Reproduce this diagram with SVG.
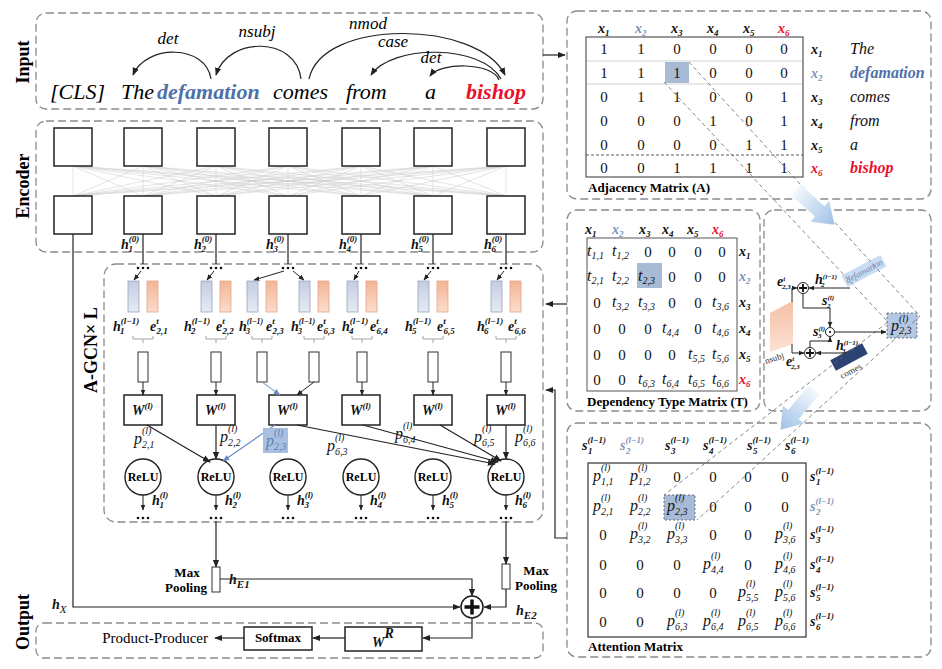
<svg xmlns="http://www.w3.org/2000/svg" width="942" height="669" viewBox="0 0 942 669">
<defs>
<marker id="ah" viewBox="0 0 10 10" refX="9" refY="5" markerUnits="userSpaceOnUse" markerWidth="8" markerHeight="8" orient="auto"><path d="M0,1L10,5L0,9z" fill="#222"/></marker>
<marker id="ahs" viewBox="0 0 10 10" refX="9" refY="5" markerUnits="userSpaceOnUse" markerWidth="6" markerHeight="6" orient="auto"><path d="M0,1L10,5L0,9z" fill="#222"/></marker>
<marker id="ahb" viewBox="0 0 10 10" refX="9" refY="5" markerUnits="userSpaceOnUse" markerWidth="7" markerHeight="7" orient="auto"><path d="M0,1L10,5L0,9z" fill="#6a8cc0"/></marker>
<linearGradient id="gB" x1="0" y1="0" x2="0" y2="1"><stop offset="0" stop-color="#c3cde2"/><stop offset="1" stop-color="#e6ebf4"/></linearGradient>
<linearGradient id="gO" x1="0" y1="0" x2="0" y2="1"><stop offset="0" stop-color="#f3b595"/><stop offset="1" stop-color="#fbdccb"/></linearGradient>
<linearGradient id="gA" x1="0" y1="0" x2="1" y2="0"><stop offset="0" stop-color="#f4f8fd"/><stop offset="1" stop-color="#9fc1e6"/></linearGradient>
<style>
.panel{fill:none;stroke:#8a8a8a;stroke-width:1.3;stroke-dasharray:8 4}
.sec{font-family:"Liberation Serif",serif;font-weight:bold;font-size:18px;text-anchor:middle}
.wd{font-family:"Liberation Serif",serif;font-style:italic;font-size:22px}
.dl{font-family:"Liberation Serif",serif;font-style:italic;font-size:17px;text-anchor:middle}
.v{font-family:"Liberation Serif",serif;font-style:italic;font-weight:bold;font-size:14px;fill:#111}
.s{font-size:9px}
.s2{font-size:10px}
.s3{font-size:7px}
.m{font-family:"Liberation Serif",serif;font-style:italic;font-size:16px;fill:#111}
.n{font-family:"Liberation Serif",serif;font-size:15px;text-anchor:middle;fill:#111}
.bt{font-family:"Liberation Serif",serif;font-weight:bold;font-size:13px}
.box{fill:#fff;stroke:#222;stroke-width:1.5}
.ln{fill:none;stroke:#222;stroke-width:1.2}
.ar{fill:none;stroke:#222;stroke-width:1.2;marker-end:url(#ah)}
.as{fill:none;stroke:#222;stroke-width:1;marker-end:url(#ahs)}
.bb{fill:url(#gB);stroke:#9aa6bd;stroke-width:0.8}
.ob{fill:url(#gO);stroke:#e0a888;stroke-width:0.8}
.br{fill:none;stroke:#999;stroke-width:0.9}
.sr{fill:#fff;stroke:#333;stroke-width:1}
.mesh{fill:none;stroke:#c8c8c8;stroke-width:0.5}
.relu{fill:#fff;stroke:#222;stroke-width:1.4}
.rl{font-family:"Liberation Serif",serif;font-weight:bold;font-size:12px;text-anchor:middle}
.blue{fill:#4f70a8}
.lb{fill:#7d93b9}
.red{fill:#e8112d}
.dash{fill:none;stroke:#6a6a6a;stroke-width:0.8;stroke-dasharray:4 3}
.hl{fill:#a7bad6}
.dot{fill:#111}
</style>
</defs>
<rect width="942" height="669" fill="#fff"/>

<g id="input">
<rect class="panel" x="36" y="13" width="507" height="96" rx="10"/>
<text class="sec" transform="translate(29,62) rotate(-90)">Input</text>
<text class="wd" x="50" y="99">[CLS]</text>
<text class="wd" x="121" y="99">The</text>
<text class="wd blue" x="157" y="99" font-weight="bold">defamation</text>
<text class="wd" x="273" y="99">comes</text>
<text class="wd" x="346" y="99">from</text>
<text class="wd" x="425" y="99">a</text>
<text class="wd red" x="466" y="99" font-weight="bold">bishop</text>
</g>

<g id="encoder">
<rect class="panel" x="36" y="121" width="507" height="131" rx="10"/>
<text class="sec" transform="translate(29,186) rotate(-90)">Encoder</text>
<path class="mesh" d="M73 166L73 196M73 166L143 196M73 166L216 196M73 166L288 196M73 166L361 196M73 166L433 196M73 166L506 196M143 166L73 196M143 166L143 196M143 166L216 196M143 166L288 196M143 166L361 196M143 166L433 196M143 166L506 196M216 166L73 196M216 166L143 196M216 166L216 196M216 166L288 196M216 166L361 196M216 166L433 196M216 166L506 196M288 166L73 196M288 166L143 196M288 166L216 196M288 166L288 196M288 166L361 196M288 166L433 196M288 166L506 196M361 166L73 196M361 166L143 196M361 166L216 196M361 166L288 196M361 166L361 196M361 166L433 196M361 166L506 196M433 166L73 196M433 166L143 196M433 166L216 196M433 166L288 196M433 166L361 196M433 166L433 196M433 166L506 196M506 166L73 196M506 166L143 196M506 166L216 196M506 166L288 196M506 166L361 196M506 166L433 196M506 166L506 196"/>
<rect class="box" x="54" y="128" width="38" height="38"/>
<rect class="box" x="124" y="128" width="38" height="38"/>
<rect class="box" x="197" y="128" width="38" height="38"/>
<rect class="box" x="269" y="128" width="38" height="38"/>
<rect class="box" x="342" y="128" width="38" height="38"/>
<rect class="box" x="414" y="128" width="38" height="38"/>
<rect class="box" x="487" y="128" width="38" height="38"/>
<rect class="box" x="54" y="196" width="38" height="38"/>
<rect class="box" x="124" y="196" width="38" height="38"/>
<rect class="box" x="197" y="196" width="38" height="38"/>
<rect class="box" x="269" y="196" width="38" height="38"/>
<rect class="box" x="342" y="196" width="38" height="38"/>
<rect class="box" x="414" y="196" width="38" height="38"/>
<rect class="box" x="487" y="196" width="38" height="38"/>
<text class="v" x="121" y="249">h<tspan class="s" dy="-7">(0)</tspan><tspan class="s" x="128.5" dy="10">1</tspan></text>
<text class="v" x="194" y="249">h<tspan class="s" dy="-7">(0)</tspan><tspan class="s" x="201.5" dy="10">2</tspan></text>
<text class="v" x="266" y="249">h<tspan class="s" dy="-7">(0)</tspan><tspan class="s" x="273.5" dy="10">3</tspan></text>
<text class="v" x="339" y="249">h<tspan class="s" dy="-7">(0)</tspan><tspan class="s" x="346.5" dy="10">4</tspan></text>
<text class="v" x="411" y="249">h<tspan class="s" dy="-7">(0)</tspan><tspan class="s" x="418.5" dy="10">5</tspan></text>
<text class="v" x="484" y="249">h<tspan class="s" dy="-7">(0)</tspan><tspan class="s" x="491.5" dy="10">6</tspan></text>
</g>

<g id="agcn">
<rect class="panel" x="104" y="264" width="439" height="258" rx="12"/>
<text class="sec" font-size="20" transform="translate(97,350) rotate(-90)">A-GCN× L</text>
</g>

<g id="gcn-col1">
<circle class="dot" cx="138" cy="268" r="1.3"/><circle class="dot" cx="143" cy="268" r="1.3"/><circle class="dot" cx="148" cy="268" r="1.3"/>
<rect class="bb" x="128" y="281" width="11" height="31"/><rect class="ob" x="147" y="281" width="11" height="31"/>
<text class="v" x="113" y="331">h<tspan class="s" dy="-7">(l−1)</tspan><tspan class="s" x="120" dy="10">1</tspan></text>
<text class="v" x="150" y="331">e<tspan class="s" dy="-7">t</tspan><tspan class="s" x="156.5" dy="10">2,1</tspan></text>
<path class="br" d="M133 336v3h20v-3M143 339v4"/>
<rect class="sr" x="138" y="352" width="10" height="30"/>
<rect class="box" x="124" y="395" width="38" height="30"/>
<text class="v" x="132" y="415">W<tspan class="s" dy="-6">(l)</tspan></text>
<circle class="relu" cx="143" cy="477" r="18"/><text class="rl" x="143" y="481">ReLU</text>
<text class="v" x="152" y="505">h<tspan class="s" dy="-7">(l)</tspan><tspan class="s" x="159.5" dy="10">1</tspan></text>
<circle class="dot" cx="138" cy="518" r="1.3"/><circle class="dot" cx="143" cy="518" r="1.3"/><circle class="dot" cx="148" cy="518" r="1.3"/>
</g>

<g id="gcn-col2">
<circle class="dot" cx="211" cy="268" r="1.3"/><circle class="dot" cx="216" cy="268" r="1.3"/><circle class="dot" cx="221" cy="268" r="1.3"/>
<rect class="bb" x="201" y="281" width="11" height="31"/><rect class="ob" x="220" y="281" width="11" height="31"/>
<text class="v" x="184" y="331">h<tspan class="s" dy="-7">(l−1)</tspan><tspan class="s" x="191" dy="10">2</tspan></text>
<text class="v" x="216" y="331">e<tspan class="s" dy="-7">t</tspan><tspan class="s" x="222.5" dy="10">2,2</tspan></text>
<path class="br" d="M206 336v3h20v-3M216 339v4"/>
<rect class="sr" x="211" y="352" width="10" height="30"/>
<rect class="box" x="197" y="395" width="38" height="30"/>
<text class="v" x="205" y="415">W<tspan class="s" dy="-6">(l)</tspan></text>
<circle class="relu" cx="216" cy="477" r="18"/><text class="rl" x="216" y="481">ReLU</text>
<text class="v" x="225" y="505">h<tspan class="s" dy="-7">(l)</tspan><tspan class="s" x="232.5" dy="10">2</tspan></text>
<circle class="dot" cx="211" cy="518" r="1.3"/><circle class="dot" cx="216" cy="518" r="1.3"/><circle class="dot" cx="221" cy="518" r="1.3"/>
</g>

<g id="gcn-col3">
<circle class="dot" cx="283" cy="268" r="1.3"/><circle class="dot" cx="288" cy="268" r="1.3"/><circle class="dot" cx="293" cy="268" r="1.3"/>
<rect class="bb" x="247" y="281" width="11" height="31"/><rect class="ob" x="266" y="281" width="11" height="31"/>
<rect class="bb" x="299" y="281" width="11" height="31"/><rect class="ob" x="318" y="281" width="11" height="31"/>
<text class="v" x="239" y="331">h<tspan font-size="8" dy="-7">(l−1)</tspan><tspan font-size="8" x="246" dy="10">3</tspan></text>
<text class="v" x="266" y="331">e<tspan class="s" dy="-7">t</tspan><tspan class="s" x="272.5" dy="10">2,3</tspan></text>
<text class="v" x="291" y="331">h<tspan font-size="8" dy="-7">(l−1)</tspan><tspan font-size="8" x="298" dy="10">3</tspan></text>
<text class="v" x="317" y="331">e<tspan class="s" dy="-7">t</tspan><tspan class="s" x="323.5" dy="10">6,3</tspan></text>
<path class="br" d="M252 336v3h20v-3M262 339v4M304 336v3h20v-3M314 339v4"/>
<rect class="sr" x="257" y="352" width="10" height="30"/>
<rect class="sr" x="309" y="352" width="10" height="30"/>
<rect class="box" x="269" y="395" width="38" height="30"/>
<text class="v" x="277" y="415">W<tspan class="s" dy="-6">(l)</tspan></text>
<circle class="relu" cx="288" cy="477" r="18"/><text class="rl" x="288" y="481">ReLU</text>
<text class="v" x="297" y="505">h<tspan class="s" dy="-7">(l)</tspan><tspan class="s" x="304.5" dy="10">3</tspan></text>
<circle class="dot" cx="283" cy="518" r="1.3"/><circle class="dot" cx="288" cy="518" r="1.3"/><circle class="dot" cx="293" cy="518" r="1.3"/>
</g>

<g id="gcn-col4">
<circle class="dot" cx="356" cy="268" r="1.3"/><circle class="dot" cx="361" cy="268" r="1.3"/><circle class="dot" cx="366" cy="268" r="1.3"/>
<rect class="bb" x="347" y="281" width="11" height="31"/><rect class="ob" x="366" y="281" width="11" height="31"/>
<text class="v" x="342" y="331">h<tspan class="s" dy="-7">(l−1)</tspan><tspan class="s" x="349" dy="10">4</tspan></text>
<text class="v" x="370" y="331">e<tspan class="s" dy="-7">t</tspan><tspan class="s" x="376.5" dy="10">6,4</tspan></text>
<path class="br" d="M352 336v3h20v-3M362 339v4"/>
<rect class="sr" x="357" y="352" width="10" height="30"/>
<rect class="box" x="342" y="395" width="38" height="30"/>
<text class="v" x="350" y="415">W<tspan class="s" dy="-6">(l)</tspan></text>
<circle class="relu" cx="361" cy="477" r="18"/><text class="rl" x="361" y="481">ReLU</text>
<text class="v" x="370" y="505">h<tspan class="s" dy="-7">(l)</tspan><tspan class="s" x="377.5" dy="10">4</tspan></text>
<circle class="dot" cx="356" cy="518" r="1.3"/><circle class="dot" cx="361" cy="518" r="1.3"/><circle class="dot" cx="366" cy="518" r="1.3"/>
</g>

<g id="gcn-col5">
<circle class="dot" cx="428" cy="268" r="1.3"/><circle class="dot" cx="433" cy="268" r="1.3"/><circle class="dot" cx="438" cy="268" r="1.3"/>
<rect class="bb" x="418" y="281" width="11" height="31"/><rect class="ob" x="437" y="281" width="11" height="31"/>
<text class="v" x="405" y="331">h<tspan class="s" dy="-7">(l−1)</tspan><tspan class="s" x="412" dy="10">5</tspan></text>
<text class="v" x="437" y="331">e<tspan class="s" dy="-7">t</tspan><tspan class="s" x="443.5" dy="10">6,5</tspan></text>
<path class="br" d="M423 336v3h20v-3M433 339v4"/>
<rect class="sr" x="428" y="352" width="10" height="30"/>
<rect class="box" x="414" y="395" width="38" height="30"/>
<text class="v" x="422" y="415">W<tspan class="s" dy="-6">(l)</tspan></text>
<circle class="relu" cx="433" cy="477" r="18"/><text class="rl" x="433" y="481">ReLU</text>
<text class="v" x="442" y="505">h<tspan class="s" dy="-7">(l)</tspan><tspan class="s" x="449.5" dy="10">5</tspan></text>
<circle class="dot" cx="428" cy="518" r="1.3"/><circle class="dot" cx="433" cy="518" r="1.3"/><circle class="dot" cx="438" cy="518" r="1.3"/>
</g>

<g id="gcn-col6">
<circle class="dot" cx="501" cy="268" r="1.3"/><circle class="dot" cx="506" cy="268" r="1.3"/><circle class="dot" cx="511" cy="268" r="1.3"/>
<rect class="bb" x="491" y="281" width="11" height="31"/><rect class="ob" x="510" y="281" width="11" height="31"/>
<text class="v" x="477" y="331">h<tspan class="s" dy="-7">(l−1)</tspan><tspan class="s" x="484" dy="10">6</tspan></text>
<text class="v" x="508" y="331">e<tspan class="s" dy="-7">t</tspan><tspan class="s" x="514.5" dy="10">6,6</tspan></text>
<path class="br" d="M496 336v3h20v-3M506 339v4"/>
<rect class="sr" x="501" y="352" width="10" height="30"/>
<rect class="box" x="487" y="395" width="38" height="30"/>
<text class="v" x="495" y="415">W<tspan class="s" dy="-6">(l)</tspan></text>
<circle class="relu" cx="506" cy="477" r="18"/><text class="rl" x="506" y="481">ReLU</text>
<text class="v" x="515" y="505">h<tspan class="s" dy="-7">(l)</tspan><tspan class="s" x="522.5" dy="10">6</tspan></text>
<circle class="dot" cx="501" cy="518" r="1.3"/><circle class="dot" cx="506" cy="518" r="1.3"/><circle class="dot" cx="511" cy="518" r="1.3"/>
</g>

<g id="output">
<rect class="panel" x="36" y="623" width="507" height="35" rx="8"/>
<text class="sec" transform="translate(29,622) rotate(-90)">Output</text>
<rect class="sr" x="212" y="567" width="8" height="25"/>
<text class="bt" font-size="12" x="187" y="577" text-anchor="middle">Max</text>
<text class="bt" font-size="12" x="186" y="592" text-anchor="middle">Pooling</text>
<rect class="sr" x="502" y="564" width="8" height="25"/>
<text class="bt" font-size="12" x="536" y="575" text-anchor="middle">Max</text>
<text class="bt" font-size="12" x="536" y="590" text-anchor="middle">Pooling</text>
<circle cx="472" cy="607" r="11" fill="#fff" stroke="#222" stroke-width="1.6"/>
<path d="M472 599.5V614.5M464.5 607H479.5" stroke="#111" stroke-width="3.5"/>
<rect class="box" x="345" y="627" width="77" height="24"/>
<text class="v" x="372" y="647" font-size="22">W<tspan font-size="14" dy="-9">R</tspan></text>
<rect class="box" x="244" y="627" width="68" height="23" stroke-width="1.2"/>
<text class="bt" font-size="11" x="278" y="642" text-anchor="middle">Softmax</text>
<text x="208" y="643" text-anchor="end" font-family="Liberation Serif, serif" font-size="15">Product-Producer</text>
<text class="v" x="229" y="584" font-size="16">h<tspan font-size="11" dy="4">E1</tspan></text>
<text class="v" x="516" y="615" font-size="16">h<tspan font-size="11" dy="4">E2</tspan></text>
<text class="v" x="52" y="609" font-size="16">h<tspan font-size="11" dy="4" font-weight="normal">X</tspan></text>
</g>

<g id="adjacency">
<rect class="panel" x="567" y="11" width="364" height="188" rx="10"/>
<rect class="hl" x="665" y="62" width="24" height="21"/>
<path d="M586 61H803M586 84H803" stroke="#d2d2d2" stroke-width="1"/>
<path d="M586 155H803" stroke="#333" stroke-width="0.8" stroke-dasharray="3 2"/>
<rect x="586" y="37" width="217" height="140" fill="none" stroke="#555" stroke-width="1.2"/>
<text class="v" x="598" y="33">x<tspan class="s" dy="3">1</tspan></text>
<text class="v lb" x="635" y="33" font-weight="normal">x<tspan class="s" dy="3">2</tspan></text>
<text class="v" x="671" y="33">x<tspan class="s" dy="3">3</tspan></text>
<text class="v" x="707" y="33">x<tspan class="s" dy="3">4</tspan></text>
<text class="v" x="743" y="33">x<tspan class="s" dy="3">5</tspan></text>
<text class="v red" x="778" y="33">x<tspan class="s" dy="3">6</tspan></text>
<text class="n" x="604 641 677 713 749 784" y="54">110000</text>
<text class="n" x="604 641 677 713 749 784" y="78">111000</text>
<text class="n" x="604 641 677 713 749 784" y="102">011001</text>
<text class="n" x="604 641 677 713 749 784" y="126">000101</text>
<text class="n" x="604 641 677 713 749 784" y="150">000011</text>
<text class="n" x="604 641 677 713 749 784" y="173">001111</text>
<text class="v" x="811" y="54">x<tspan class="s" dy="3">1</tspan></text>
<text class="v lb" x="811" y="78" font-weight="normal">x<tspan class="s" dy="3">2</tspan></text>
<text class="v" x="811" y="102">x<tspan class="s" dy="3">3</tspan></text>
<text class="v" x="811" y="126">x<tspan class="s" dy="3">4</tspan></text>
<text class="v" x="811" y="150">x<tspan class="s" dy="3">5</tspan></text>
<text class="v red" x="811" y="173">x<tspan class="s" dy="3">6</tspan></text>
<text class="m" x="850" y="54" font-size="15">The</text>
<text class="m blue" x="850" y="78" font-size="15" font-weight="bold">defamation</text>
<text class="m" x="850" y="102" font-size="15">comes</text>
<text class="m" x="850" y="126" font-size="15">from</text>
<text class="m" x="850" y="150" font-size="14">a</text>
<text class="m red" x="850" y="173" font-size="15" font-weight="bold">bishop</text>
<text class="bt" x="588" y="192">Adjacency Matrix  (A)</text>
</g>

<g id="dependency-type">
<rect class="panel" x="567" y="210" width="193" height="201" rx="10"/>
<rect class="hl" x="637" y="263" width="25" height="25"/>
<rect x="587" y="238" width="150" height="153" fill="none" stroke="#555" stroke-width="1"/>
<text class="v" x="585" y="234">x<tspan class="s" dy="3">1</tspan></text>
<text class="v lb" x="612" y="234" font-weight="normal">x<tspan class="s" dy="3">2</tspan></text>
<text class="v" x="639" y="234">x<tspan class="s" dy="3">3</tspan></text>
<text class="v" x="662" y="234">x<tspan class="s" dy="3">4</tspan></text>
<text class="v" x="687" y="234">x<tspan class="s" dy="3">5</tspan></text>
<text class="v red" x="712" y="234">x<tspan class="s" dy="3">6</tspan></text>
<text class="m" x="587" y="256" font-size="17">t<tspan class="s2" font-size="11" dy="3">1,1</tspan></text>
<text class="m" x="612" y="256" font-size="17">t<tspan class="s2" font-size="11" dy="3">1,2</tspan></text>
<text class="n" x="648 672 698 722" y="257">0000</text>
<text class="m" x="587" y="281" font-size="17">t<tspan class="s2" font-size="11" dy="3">2,1</tspan></text>
<text class="m" x="612" y="281" font-size="17">t<tspan class="s2" font-size="11" dy="3">2,2</tspan></text>
<text class="m" x="638" y="281" font-size="17">t<tspan class="s2" font-size="11" dy="3">2,3</tspan></text>
<text class="n" x="672 698 722" y="282">000</text>
<text class="n" x="597" y="308">0</text>
<text class="m" x="612" y="307" font-size="17">t<tspan class="s2" font-size="11" dy="3">3,2</tspan></text>
<text class="m" x="638" y="307" font-size="17">t<tspan class="s2" font-size="11" dy="3">3,3</tspan></text>
<text class="n" x="672 698" y="308">00</text>
<text class="m" x="712" y="307" font-size="17">t<tspan class="s2" font-size="11" dy="3">3,6</tspan></text>
<text class="n" x="597 622 648" y="334">000</text>
<text class="m" x="662" y="333" font-size="17">t<tspan class="s2" font-size="11" dy="3">4,4</tspan></text>
<text class="n" x="698" y="334">0</text>
<text class="m" x="712" y="333" font-size="17">t<tspan class="s2" font-size="11" dy="3">4,6</tspan></text>
<text class="n" x="597 622 648 672" y="360">0000</text>
<text class="m" x="688" y="359" font-size="17">t<tspan class="s2" font-size="11" dy="3">5,5</tspan></text>
<text class="m" x="712" y="359" font-size="17">t<tspan class="s2" font-size="11" dy="3">5,6</tspan></text>
<text class="n" x="597 622" y="385">00</text>
<text class="m" x="638" y="384" font-size="17">t<tspan class="s2" font-size="11" dy="3">6,3</tspan></text>
<text class="m" x="662" y="384" font-size="17">t<tspan class="s2" font-size="11" dy="3">6,4</tspan></text>
<text class="m" x="688" y="384" font-size="17">t<tspan class="s2" font-size="11" dy="3">6,5</tspan></text>
<text class="m" x="712" y="384" font-size="17">t<tspan class="s2" font-size="11" dy="3">6,6</tspan></text>
<text class="v" x="739" y="256">x<tspan class="s" dy="3">1</tspan></text>
<text class="v lb" x="739" y="281" font-weight="normal">x<tspan class="s" dy="3">2</tspan></text>
<text class="v" x="739" y="307">x<tspan class="s" dy="3">3</tspan></text>
<text class="v" x="739" y="333">x<tspan class="s" dy="3">4</tspan></text>
<text class="v" x="739" y="359">x<tspan class="s" dy="3">5</tspan></text>
<text class="v red" x="739" y="384">x<tspan class="s" dy="3">6</tspan></text>
<text class="bt" x="587" y="406" font-size="12.5">Dependency Type Matrix (T)</text>
</g>

<g id="attention">
<rect class="panel" x="567" y="423" width="364" height="234" rx="10"/>
<rect class="hl" x="664" y="495" width="31" height="25" stroke="#556" stroke-width="0.8" stroke-dasharray="2 2"/>
<rect x="588" y="463" width="218" height="174" fill="none" stroke="#333" stroke-width="1.2"/>
<text class="v" x="582" y="450">s<tspan class="s" dy="-7">(l−1)</tspan><tspan class="s" x="588" dy="11">1</tspan></text>
<text class="v lb" x="620" y="450" font-weight="normal">s<tspan class="s" dy="-7">(l−1)</tspan><tspan class="s" x="626" dy="11">2</tspan></text>
<text class="v" x="665" y="450">s<tspan class="s" dy="-7">(l−1)</tspan><tspan class="s" x="671" dy="11">3</tspan></text>
<text class="v" x="703" y="450">s<tspan class="s" dy="-7">(l−1)</tspan><tspan class="s" x="709" dy="11">4</tspan></text>
<text class="v" x="747" y="450">s<tspan class="s" dy="-7">(l−1)</tspan><tspan class="s" x="753" dy="11">5</tspan></text>
<text class="v" x="785" y="450">s<tspan class="s" dy="-7">(l−1)</tspan><tspan class="s" x="791" dy="11">6</tspan></text>
<text class="m" x="593" y="481">p<tspan class="s2" dy="-10">(l)</tspan><tspan class="s2" x="601" dy="14">1,1</tspan></text>
<text class="m" x="630" y="481">p<tspan class="s2" dy="-10">(l)</tspan><tspan class="s2" x="638" dy="14">1,2</tspan></text>
<text class="n" x="677 713 748 785" y="482">0000</text>
<text class="m" x="593" y="511">p<tspan class="s2" dy="-10">(l)</tspan><tspan class="s2" x="601" dy="14">2,1</tspan></text>
<text class="m" x="630" y="511">p<tspan class="s2" dy="-10">(l)</tspan><tspan class="s2" x="638" dy="14">2,2</tspan></text>
<text class="m" x="667" y="511">p<tspan class="s2" dy="-10">(l)</tspan><tspan class="s2" x="675" dy="14">2,3</tspan></text>
<text class="n" x="713 748 785" y="512">000</text>
<text class="n" x="603" y="540">0</text>
<text class="m" x="630" y="539">p<tspan class="s2" dy="-10">(l)</tspan><tspan class="s2" x="638" dy="14">3,2</tspan></text>
<text class="m" x="667" y="539">p<tspan class="s2" dy="-10">(l)</tspan><tspan class="s2" x="675" dy="14">3,3</tspan></text>
<text class="n" x="713 748" y="540">00</text>
<text class="m" x="775" y="539">p<tspan class="s2" dy="-10">(l)</tspan><tspan class="s2" x="783" dy="14">3,6</tspan></text>
<text class="n" x="603 640 677" y="570">000</text>
<text class="m" x="703" y="569">p<tspan class="s2" dy="-10">(l)</tspan><tspan class="s2" x="711" dy="14">4,4</tspan></text>
<text class="n" x="748" y="570">0</text>
<text class="m" x="775" y="569">p<tspan class="s2" dy="-10">(l)</tspan><tspan class="s2" x="783" dy="14">4,6</tspan></text>
<text class="n" x="603 640 677 713" y="598">0000</text>
<text class="m" x="738" y="597">p<tspan class="s2" dy="-10">(l)</tspan><tspan class="s2" x="746" dy="14">5,5</tspan></text>
<text class="m" x="775" y="597">p<tspan class="s2" dy="-10">(l)</tspan><tspan class="s2" x="783" dy="14">5,6</tspan></text>
<text class="n" x="603 640" y="627">00</text>
<text class="m" x="667" y="626">p<tspan class="s2" dy="-10">(l)</tspan><tspan class="s2" x="675" dy="14">6,3</tspan></text>
<text class="m" x="703" y="626">p<tspan class="s2" dy="-10">(l)</tspan><tspan class="s2" x="711" dy="14">6,4</tspan></text>
<text class="m" x="738" y="626">p<tspan class="s2" dy="-10">(l)</tspan><tspan class="s2" x="746" dy="14">6,5</tspan></text>
<text class="m" x="775" y="626">p<tspan class="s2" dy="-10">(l)</tspan><tspan class="s2" x="783" dy="14">6,6</tspan></text>
<text class="v" x="810" y="481">s<tspan class="s" dy="-7">(l−1)</tspan><tspan class="s" x="816" dy="11">1</tspan></text>
<text class="v lb" x="810" y="511" font-weight="normal">s<tspan class="s" dy="-7">(l−1)</tspan><tspan class="s" x="816" dy="11">2</tspan></text>
<text class="v" x="810" y="539">s<tspan class="s" dy="-7">(l−1)</tspan><tspan class="s" x="816" dy="11">3</tspan></text>
<text class="v" x="810" y="569">s<tspan class="s" dy="-7">(l−1)</tspan><tspan class="s" x="816" dy="11">4</tspan></text>
<text class="v" x="810" y="597">s<tspan class="s" dy="-7">(l−1)</tspan><tspan class="s" x="816" dy="11">5</tspan></text>
<text class="v" x="810" y="626">s<tspan class="s" dy="-7">(l−1)</tspan><tspan class="s" x="816" dy="11">6</tspan></text>
<text class="bt" x="588" y="651">Attention Matrix</text>
</g>

<g id="score-calc">
<rect class="panel" x="764" y="210" width="167" height="201" rx="10"/>
<polygon points="770,313 793,301 793,344 770,352" fill="url(#gO)" opacity="0.85"/>
<text transform="translate(766,364) rotate(-18)" font-family="Liberation Serif, serif" font-size="9" fill="#333">nsubj</text>
<g transform="translate(864,271) rotate(-28)"><rect x="-22" y="-6.5" width="44" height="13" fill="#cadcf1"/><text y="3" text-anchor="middle" font-family="Liberation Serif, serif" font-style="italic" font-size="9" fill="#6b8ec4">defamation</text></g>
<g transform="translate(849,357) rotate(-28)"><rect x="-18" y="-6" width="36" height="12" fill="#2c4272"/></g>
<text transform="translate(842,379) rotate(-28)" font-family="Liberation Serif, serif" font-size="9" fill="#333">comes</text>
<circle cx="803" cy="288" r="5.5" fill="#fff" stroke="#222" stroke-width="1"/><path d="M803 284V292M799 288H807" stroke="#111" stroke-width="1.8"/>
<circle cx="810" cy="353" r="5.5" fill="#fff" stroke="#222" stroke-width="1"/><path d="M810 349V357M806 353H814" stroke="#111" stroke-width="1.8"/>
<circle cx="830" cy="332" r="4.5" fill="#fff" stroke="#222" stroke-width="1"/><circle cx="830" cy="332" r="1.1" fill="#111"/>
<rect x="887" y="313" width="30" height="25" fill="#b4c7e3" stroke="#556" stroke-width="0.8" stroke-dasharray="2 2"/>
<text class="m" x="891" y="331">p<tspan class="s2" dy="-9">(l)</tspan><tspan class="s2" x="899" dy="12">2,3</tspan></text>
<text class="v" x="777" y="286" font-size="11">e<tspan class="s3" dy="-5">t</tspan><tspan class="s3" x="782" dy="8">2,3</tspan></text>
<text class="v" x="815" y="284" font-size="11">h<tspan class="s3" dy="-5">(l−1)</tspan><tspan class="s3" x="821" dy="8">2</tspan></text>
<text class="v" x="822" y="305" font-size="11">s<tspan class="s3" dy="-5">(l)</tspan><tspan class="s3" x="827" dy="8">2</tspan></text>
<text class="v" x="813" y="336" font-size="11">s<tspan class="s3" dy="-5">(l)</tspan><tspan class="s3" x="818" dy="7">3</tspan></text>
<text class="v" x="786" y="366" font-size="11">e<tspan class="s3" dy="-5">t</tspan><tspan class="s3" x="791" dy="8">2,3</tspan></text>
<text class="v" x="836" y="350" font-size="11">h<tspan class="s3" dy="-5">(l−1)</tspan><tspan class="s3" x="842" dy="8">3</tspan></text>
</g>

<g id="connectors">
<path class="ar" d="M211 79C206 44 146 44 133 75"/>
<path class="ar" d="M301 79C296 36 228 36 216 75"/>
<path class="ar" d="M309 79C322 18 478 20 505 75"/>
<path class="ar" d="M501 79C482 44 392 44 371 75"/>
<path class="ar" d="M499 80C492 62 440 62 430 76"/>
<text class="dl" x="168" y="44">det</text>
<text class="dl" x="257" y="37">nsubj</text>
<text class="dl" x="368" y="29">nmod</text>
<text class="dl" x="393" y="47">case</text>
<text class="dl" x="431" y="63">det</text>
<path class="ar" d="M543 55H565"/>
<path class="ln" d="M143 234V264M216 234V264M288 234V264M361 234V264M433 234V264M506 234V264"/>
<path class="ar" d="M73 234V607H460"/>
<path class="as" d="M141 271L134 280"/>
<path class="as" d="M214 271L207 280"/>
<path class="as" d="M284 271L254 280"/>
<path class="as" d="M293 271L304 280"/>
<path class="as" d="M359 271L354 280"/>
<path class="as" d="M431 271L424 280"/>
<path class="as" d="M504 271L497 280"/>
<path class="as" d="M143 382V395"/>
<path class="as" d="M216 382V395"/>
<path d="M262 382L280 395" fill="none" stroke="#6a8cc0" stroke-width="1" marker-end="url(#ahb)"/>
<path class="as" d="M314 382L297 395"/>
<path class="as" d="M362 382V395"/>
<path class="as" d="M433 382V395"/>
<path class="as" d="M506 382V395"/>
<path class="ar" d="M147 425L210 462"/>
<path class="ar" d="M216 425V459"/>
<path d="M275 425L223 461" fill="none" stroke="#6a8cc0" stroke-width="1.2" marker-end="url(#ahb)"/>
<path class="ar" d="M297 425L495 464"/>
<path class="ar" d="M363 425L498 462"/>
<path class="ar" d="M440 425L501 461"/>
<path class="ar" d="M506 425V459"/>
<text class="m" x="134" y="444">p<tspan class="s2" dy="-10">(l)</tspan><tspan class="s2" x="142" dy="14">2,1</tspan></text>
<text class="m" x="220" y="442">p<tspan class="s2" dy="-10">(l)</tspan><tspan class="s2" x="228" dy="14">2,2</tspan></text>
<rect x="263" y="428" width="25" height="25" fill="#a9bfdf"/>
<text class="m" x="266" y="446" style="fill:#5b7fb5">p<tspan class="s2" dy="-10">(l)</tspan><tspan class="s2" x="274" dy="14">2,3</tspan></text>
<text class="m" x="327" y="451">p<tspan class="s2" dy="-10">(l)</tspan><tspan class="s2" x="335" dy="14">6,3</tspan></text>
<text class="m" x="395" y="439">p<tspan class="s2" dy="-10">(l)</tspan><tspan class="s2" x="403" dy="14">6,4</tspan></text>
<text class="m" x="474" y="442">p<tspan class="s2" dy="-10">(l)</tspan><tspan class="s2" x="482" dy="14">6,5</tspan></text>
<text class="m" x="515" y="442">p<tspan class="s2" dy="-10">(l)</tspan><tspan class="s2" x="523" dy="14">6,6</tspan></text>
<path class="as" d="M143 495V510"/>
<path class="as" d="M216 495V510"/>
<path class="as" d="M288 495V510"/>
<path class="as" d="M361 495V510"/>
<path class="as" d="M433 495V510"/>
<path class="as" d="M506 495V510"/>
<path class="ar" d="M216 521V567"/>
<path class="ar" d="M506 521V564"/>
<path class="ar" d="M220 579H472V596"/>
<path class="ar" d="M506 589V607H484"/>
<path class="ar" d="M472 618V638H423"/>
<path class="ar" d="M345 638H313"/>
<path class="ar" d="M244 638H215"/>
<path class="ar" d="M567 304H546"/>
<path class="ar" d="M567 538H555V390H546"/>
<path class="dash" d="M689 62L920 316L697 520"/>
<path class="dash" d="M664 82L888 322L664 495"/>
<path class="as" d="M792 302V288H797"/>
<path class="as" d="M850 288H809"/>
<path class="as" d="M803 294V308H830V327"/>
<path class="as" d="M835 332H886"/>
<path class="as" d="M792 344V353H804"/>
<path class="as" d="M847 353H816"/>
<path class="as" d="M810 347V341H830V337"/>
<polygon points="0,-7 32,-7 32,-14 52,0 32,14 32,7 0,7" fill="url(#gA)" transform="translate(796,190) rotate(42)"/>
<polygon points="0,-7 32,-7 32,-14 52,0 32,14 32,7 0,7" fill="url(#gA)" transform="translate(814,390) rotate(130)"/>
</g>
</svg>
